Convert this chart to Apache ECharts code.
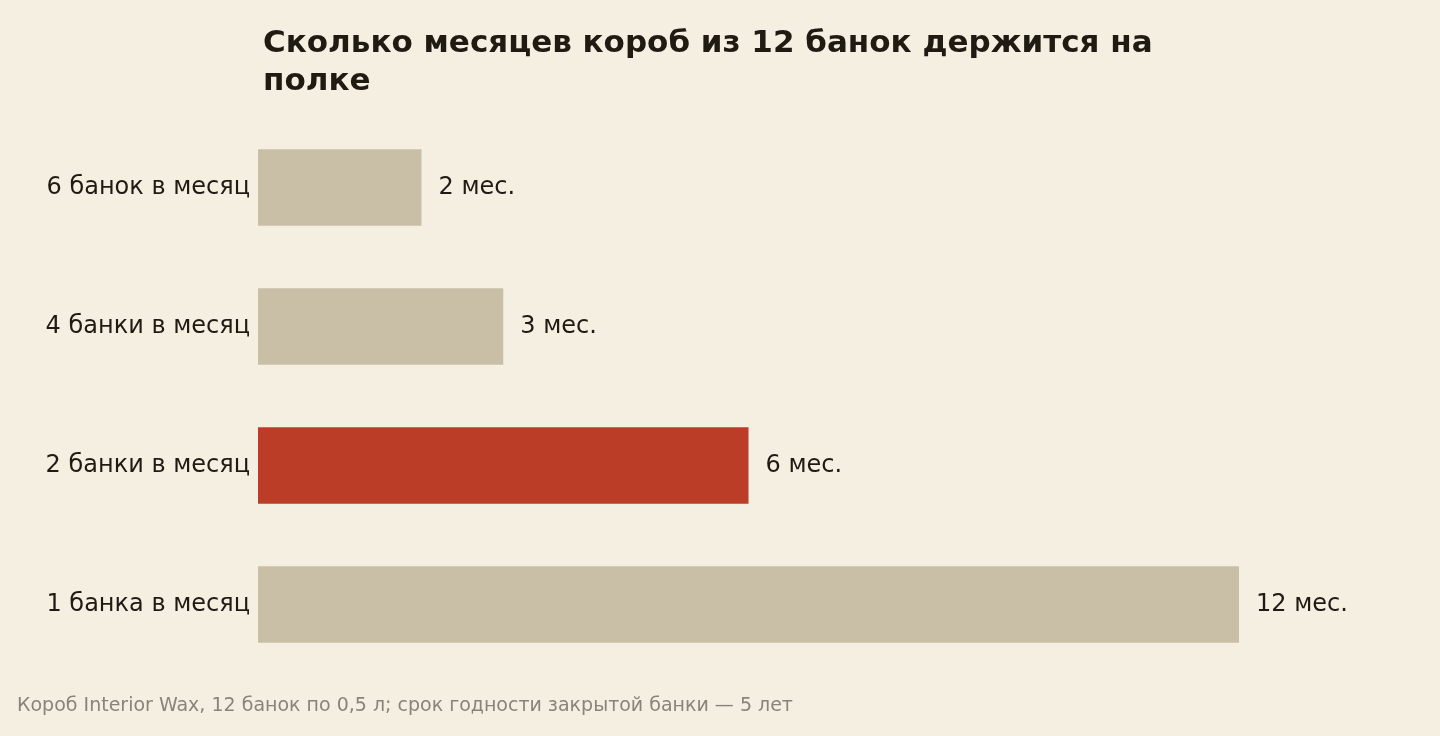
<!DOCTYPE html>
<html><head><meta charset="utf-8">
<script src="https://cdn.jsdelivr.net/npm/echarts@6/dist/echarts.min.js"></script>
<style>html,body{margin:0;padding:0;background:#f5efe2}#c{width:1440px;height:736px}</style>
</head><body><div id="c"></div>
<script>
const categories = ['6 банок в месяц','4 банки в месяц','2 банки в месяц','1 банка в месяц'];
const months = [2,3,6,12];
const highlight = [false,false,true,false];
const labels = ['2 мес.','3 мес.','6 мес.','12 мес.'];
const chart = echarts.init(document.getElementById('c'));
const font = 'DejaVu Sans';
chart.setOption({
  backgroundColor:'#f5efe2',
  animation:false,
  title:{text:'Сколько месяцев короб из 12 банок держится на\nполке',left:258,top:20,
    textStyle:{fontFamily:font,fontSize:31,fontWeight:'bold',color:'#1f1a12',lineHeight:38}},
  graphic:[{type:'text',left:17,top:697,style:{text:'Короб Interior Wax, 12 банок по 0,5 л; срок годности закрытой банки — 5 лет',
    font:'19px "DejaVu Sans"',fill:'#8a8478'}}],
  grid:{left:258,right:201,top:118,bottom:62,containLabel:false},
  xAxis:{type:'value',min:0,max:12,show:false},
  yAxis:{type:'category',data:categories,inverse:true,axisLine:{show:false},axisTick:{show:false},
    axisLabel:{fontFamily:font,fontSize:24,color:'#1f1a12',margin:8}},
  series:[{type:'bar',barWidth:'55%',
    data:months.map((v,i)=>({value:v,itemStyle:{color:highlight[i]?'#bb3d28':'#c9bfa7'}})),
    label:{show:true,position:'right',distance:17,fontFamily:font,fontSize:24,color:'#1f1a12',
      formatter:p=>labels[p.dataIndex]}}]
});
</script></body></html>
